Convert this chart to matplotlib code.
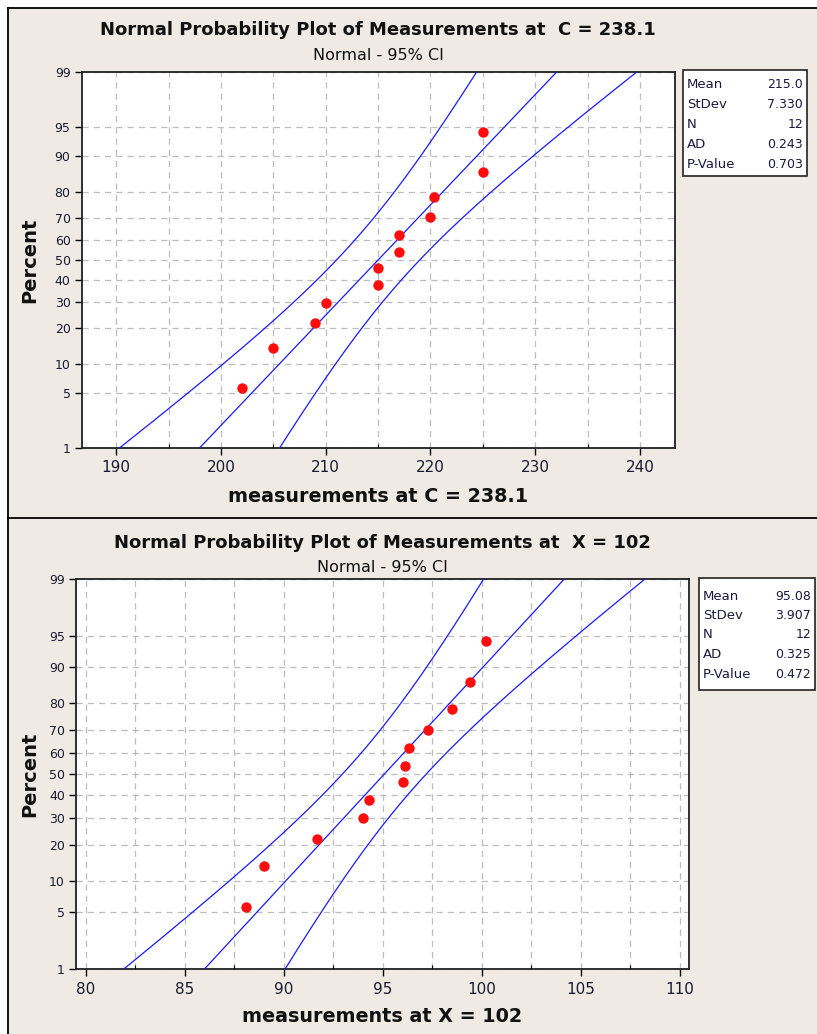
import numpy as np
import matplotlib
matplotlib.use("Agg")
import matplotlib.pyplot as plt
from matplotlib.patches import Rectangle
from matplotlib.lines import Line2D
from matplotlib.ticker import FixedLocator, MultipleLocator
from statistics import NormalDist

# plotting positions (percent) of the 12 ordered points
pct = [5.6, 13.7, 21.8, 29.8, 37.9, 46.0, 54.0, 62.1, 70.2, 78.2, 86.3, 94.4]

c_vals = [202.0, 205.0, 209.0, 210.0, 215.0, 215.0, 217.0, 217.0, 220.0, 220.3, 225.0, 225.0]
x_vals = [88.1, 89.0, 91.7, 94.0, 94.3, 96.0, 96.1, 96.3, 97.3, 98.5, 99.4, 100.2]

# summary boxes
stat_labels = ["Mean", "StDev", "N", "AD", "P-Value"]
c_stat_text = ["215.0", "7.330", "12", "0.243", "0.703"]
x_stat_text = ["95.08", "3.907", "12", "0.325", "0.472"]
c_mean, c_sd = 215.0, 7.330
x_mean, x_sd = 95.08, 3.907
n = 12

pct_ticks = [1, 5, 10, 20, 30, 40, 50, 60, 70, 80, 90, 95, 99]
c_xticks = [190, 200, 210, 220, 230, 240]
x_xticks = [80, 85, 90, 95, 100, 105, 110]

W, H = 817, 1034
BG = "#efebe4"

_nd = NormalDist()


def to_z(p):
    p = np.clip(np.asarray(p, float), 1e-4, 100 - 1e-4)
    return np.vectorize(lambda v: _nd.inv_cdf(v / 100.0), otypes=[float])(p)


def from_z(z):
    return np.vectorize(lambda v: 100.0 * _nd.cdf(v), otypes=[float])(np.asarray(z, float))


def fx(x):
    return x / W


def fy(y):
    return 1 - y / H


fig = plt.figure(figsize=(W / 100, H / 100), dpi=100, facecolor=BG)

# white margin outside the panel frames
fig.add_artist(Rectangle((0, 0), fx(7.5), 1, transform=fig.transFigure,
                         facecolor="white", edgecolor="none", zorder=-1))
fig.add_artist(Rectangle((0, fy(7.5)), 1, 1 - fy(7.5), transform=fig.transFigure,
                         facecolor="white", edgecolor="none", zorder=-1))
for xs, ys in [([fx(7.5), 1], [fy(7.5), fy(7.5)]),
               ([fx(7.5), fx(7.5)], [0, fy(7.5)]),
               ([fx(7.5), 1], [fy(517.5), fy(517.5)])]:
    fig.add_artist(Line2D(xs, ys, transform=fig.transFigure, color="black", lw=1.3))


def panel(left, right, top, bottom, vals, mean, sd, xlim, ticks, minor,
          title, xlabel, stat_text, box, row_y, title_y, xlab_y):
    ax = fig.add_axes([fx(left), fy(bottom), fx(right) - fx(left), (bottom - top) / H])
    ax.set_yscale("function", functions=(to_z, from_z))
    ax.set_ylim(1, 99)
    ax.set_xlim(*xlim)

    # fitted line and 95% CI bands
    zg = np.linspace(-3.2, 3.2, 300)
    pg = from_z(zg)
    fit = mean + zg * sd
    sd_ml = sd * np.sqrt((n - 1) / n)
    half = 1.96 * sd_ml * np.sqrt((1 + zg ** 2 / 2) / n)
    for xs in (fit, fit - half, fit + half):
        ax.plot(xs, pg, color="#1a1aff", lw=0.9, zorder=3)

    ax.plot(vals, pct, "o", color="#ff0d0d", ms=7.5, mec="none", zorder=4)

    ax.yaxis.set_major_locator(FixedLocator(pct_ticks))
    ax.yaxis.set_minor_locator(FixedLocator([]))
    ax.set_yticklabels([str(t) for t in pct_ticks])
    ax.xaxis.set_major_locator(FixedLocator(ticks))
    ax.xaxis.set_minor_locator(MultipleLocator(minor))
    ax.set_xticklabels([str(t) for t in ticks])

    ax.grid(True, which="both", axis="x", color="#bdbdbd", ls=(0, (5, 4)), lw=0.9)
    ax.grid(True, which="major", axis="y", color="#bdbdbd", ls=(0, (5, 4)), lw=0.9)
    ax.set_axisbelow(True)

    ax.tick_params(axis="y", which="major", direction="out", length=5, width=1,
                   labelsize=9, pad=3, labelcolor="#1a1a30")
    ax.tick_params(axis="x", which="major", direction="out", length=5, width=1,
                   labelsize=11, pad=4, labelcolor="#1a1a30")
    ax.tick_params(axis="x", which="minor", direction="in", length=3, width=0.8)
    for s in ax.spines.values():
        s.set_linewidth(1.3)
        s.set_color("#202020")

    cx = fx((left + right) / 2)
    fig.text(cx, fy(title_y), title, ha="center", va="center",
             fontsize=13, fontweight="bold", color="#111111")
    fig.text(cx, fy(title_y + 25), "Normal - 95% CI", ha="center", va="center",
             fontsize=11.5, color="#111111")
    fig.text(cx, fy(xlab_y), xlabel, ha="center", va="center",
             fontsize=13.8, fontweight="bold", color="#111111")
    fig.text(fx(30), fy((top + bottom) / 2), "Percent", ha="center", va="center",
             rotation=90, fontsize=14, fontweight="bold", color="#111111")

    bl, br, bt, bb = box
    fig.add_artist(Rectangle((fx(bl), fy(bb)), fx(br) - fx(bl), (bb - bt) / H,
                             transform=fig.transFigure, facecolor="white",
                             edgecolor="#222222", lw=1.2))
    for lab, val, yy in zip(stat_labels, stat_text, row_y):
        fig.text(fx(bl + 4), fy(yy), lab, ha="left", va="center",
                 fontsize=9.5, color="#1a1a40")
        fig.text(fx(br - 4), fy(yy), val, ha="right", va="center",
                 fontsize=9, color="#1a1a40")
    return ax


panel(81.7, 675, 72, 448, c_vals, c_mean, c_sd, (186.7, 243.35), c_xticks, 5,
      "Normal Probability Plot of Measurements at  C = 238.1",
      "measurements at C = 238.1", c_stat_text, (683, 807, 70, 176),
      [85, 104.5, 124, 144, 164], 30, 497)

panel(76, 689, 579, 969, x_vals, x_mean, x_sd, (79.5, 110.47), x_xticks, 2.5,
      "Normal Probability Plot of Measurements at  X = 102",
      "measurements at X = 102", x_stat_text, (699, 815, 578, 690),
      [596, 615.5, 635, 654.5, 674], 543, 1016)

fig.savefig("out.png", dpi=100, facecolor=BG)
